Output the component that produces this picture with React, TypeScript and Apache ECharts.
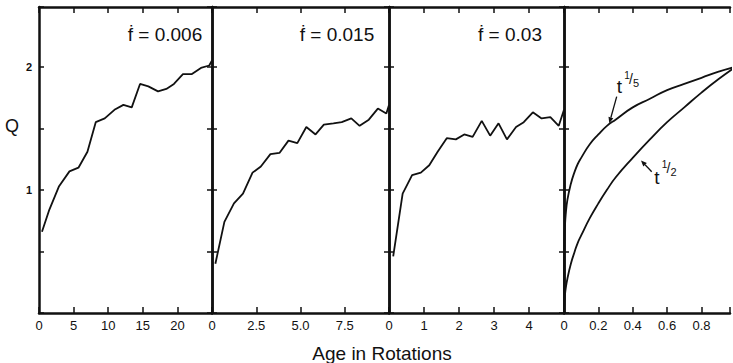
import React, { useEffect, useRef } from "react";
import * as echarts from "echarts";

// Panel 1: fdot = 0.006
const p1Age = [0.43, 1.5, 2.9, 4.4, 5.7, 7.0, 8.2, 9.5, 10.9, 12.2, 13.4, 14.6, 15.8, 17.2, 18.4, 19.5, 20.8, 22.1, 23.4, 24.6, 25.0];
const p1Q = [0.66, 0.84, 1.03, 1.15, 1.18, 1.31, 1.55, 1.58, 1.65, 1.69, 1.67, 1.86, 1.84, 1.80, 1.82, 1.86, 1.94, 1.94, 1.99, 2.01, 2.05];
// Panel 2: fdot = 0.015
const p2Age = [0.19, 0.70, 1.24, 1.75, 2.29, 2.76, 3.30, 3.81, 4.32, 4.82, 5.33, 5.85, 6.32, 6.86, 7.33, 7.87, 8.34, 8.86, 9.37, 9.85, 10.0];
const p2Q = [0.40, 0.74, 0.89, 0.97, 1.14, 1.19, 1.29, 1.30, 1.40, 1.38, 1.51, 1.45, 1.53, 1.54, 1.55, 1.58, 1.52, 1.57, 1.66, 1.62, 1.69];
// Panel 3: fdot = 0.03
const p3Age = [0.12, 0.39, 0.66, 0.91, 1.15, 1.39, 1.65, 1.91, 2.15, 2.39, 2.65, 2.89, 3.13, 3.37, 3.63, 3.85, 4.11, 4.36, 4.61, 4.85, 5.0];
const p3Q = [0.46, 0.97, 1.12, 1.14, 1.20, 1.31, 1.42, 1.41, 1.45, 1.43, 1.56, 1.44, 1.54, 1.41, 1.51, 1.55, 1.63, 1.58, 1.59, 1.52, 1.65];
// Panel 4: power-law curves
const p4T = [0, 0.0005, 0.001, 0.003, 0.005, 0.01, 0.02, 0.04, 0.06, 0.08, 0.1, 0.15, 0.2, 0.25, 0.3, 0.4, 0.5, 0.6, 0.7, 0.8, 0.9, 1.0];
const p4Fifth = [0, 0.44, 0.50, 0.63, 0.69, 0.80, 0.92, 1.05, 1.14, 1.21, 1.26, 1.37, 1.45, 1.52, 1.57, 1.67, 1.74, 1.81, 1.86, 1.91, 1.96, 2.0];
const p4Half = [0, 0.045, 0.063, 0.11, 0.14, 0.20, 0.28, 0.40, 0.49, 0.57, 0.63, 0.77, 0.89, 1.0, 1.10, 1.26, 1.41, 1.55, 1.67, 1.79, 1.90, 2.0];

const panelTitles = ["ḟ = 0.006", "ḟ = 0.015", "ḟ = 0.03"];
// the last panel is cut off by the picture's right edge just short of 1.0
const xMax = [25, 10, 5, 0.966];
const xInterval = [5, 2.5, 1, 0.2];

const FONT = "'Liberation Sans', Arial, sans-serif";
const INK = "#111";

const zip = (a: number[], b: number[]) => a.map((v, i) => [v, b[i]]);

export default function App() {
  const ref = useRef<HTMLDivElement>(null);
  useEffect(() => {
    if (!ref.current) return;
    const chart = echarts.init(ref.current, undefined, { renderer: "svg" });
    const grids = [
      { left: 39, top: 7, width: 173, height: 306 },
      { left: 212, top: 7, width: 177, height: 306 },
      { left: 389, top: 7, width: 175, height: 306 },
      { left: 564, top: 7, width: 169, height: 306 },
    ];
    const axisLine = { show: true, onZero: false, lineStyle: { color: INK, width: 2.5 } };
    const axisTick = { show: true, inside: true, length: 6, lineStyle: { color: INK, width: 1.5 } };
    const xFormatters = [
      (v: number) => (v >= 25 ? "" : String(v)),
      (v: number) => (v === 0 ? "0" : v >= 10 ? "" : v.toFixed(1)),
      (v: number) => (v >= 5 ? "" : String(v)),
      (v: number) => (v === 0 ? "0" : v >= 0.9 ? "" : v.toFixed(1)),
    ];
    const xAxis: any[] = [];
    const yAxis: any[] = [];
    grids.forEach((_, i) => {
      xAxis.push({
        type: "value", gridIndex: i, position: "bottom", min: 0, max: xMax[i], interval: xInterval[i],
        axisLine, axisTick, splitLine: { show: false },
        axisLabel: { formatter: xFormatters[i], color: INK, fontSize: 13, fontFamily: FONT, margin: 6 },
      });
      xAxis.push({
        type: "value", gridIndex: i, position: "top", min: 0, max: xMax[i], interval: xInterval[i],
        axisLine, axisTick, splitLine: { show: false }, axisLabel: { show: false },
      });
    });
    grids.forEach((_, i) => {
      yAxis.push({
        type: "value", gridIndex: i, position: "left", min: 0, max: 2.485, interval: 0.5,
        axisLine, axisTick: { ...axisTick, length: 5 }, splitLine: { show: false },
        axisLabel: {
          show: i === 0,
          formatter: (v: number) => (v === 1 || v === 2 ? String(v) : ""),
          color: INK, fontSize: 11, fontWeight: "bold", fontFamily: FONT, margin: 7,
        },
      });
      yAxis.push({
        type: "value", gridIndex: i, position: "right", min: 0, max: 2.485, interval: 0.5,
        show: i < 3,
        axisLine, axisTick: { ...axisTick, length: 5 }, splitLine: { show: false },
        axisLabel: { show: false },
      });
    });
    const lineStyle = { color: INK, width: 1.8 };
    const mk = (i: number, data: number[][], smooth = false) => ({
      type: "line", xAxisIndex: 2 * i, yAxisIndex: 2 * i, data, showSymbol: false,
      lineStyle, smooth, silent: true, clip: true,
    });
    const series = [
      mk(0, zip(p1Age, p1Q)),
      mk(1, zip(p2Age, p2Q)),
      mk(2, zip(p3Age, p3Q)),
      mk(3, zip(p4T, p4Fifth), true),
      mk(3, zip(p4T, p4Half), true),
    ];
    const titleX = [165, 337, 510];
    const txt = (x: number, y: number, text: string, size: number, align = "center") => ({
      type: "text", x, y,
      style: { text, fill: INK, font: `${size}px ${FONT}`, textAlign: align, textVerticalAlign: "middle" },
    });
    const graphic: any[] = [
      ...panelTitles.map((t, i) => txt(titleX[i], 34, t, 19)),
      txt(12, 126, "Q", 18),
      txt(382, 353, "Age in Rotations", 19),
      // t^(1/5)
      txt(619.5, 86, "t", 19),
      txt(627, 75, "1", 10),
      txt(631, 79, "/", 14),
      txt(636, 83, "5", 11),
      // t^(1/2)
      txt(657, 177, "t", 19),
      txt(664.5, 164, "1", 10),
      txt(668.5, 168, "/", 14),
      txt(673.5, 172, "2", 11),
      { type: "line", shape: { x1: 616.7, y1: 96.7, x2: 610.9, y2: 117.5 }, style: { stroke: INK, lineWidth: 1.3 } },
      { type: "polygon", shape: { points: [[609.3, 123.3], [613.3, 118.2], [608.5, 116.8]] }, style: { fill: INK } },
      { type: "line", shape: { x1: 651.7, y1: 171.7, x2: 645.1, y2: 164.8 }, style: { stroke: INK, lineWidth: 1.3 } },
      { type: "polygon", shape: { points: [[641, 160.5], [646.9, 163.1], [643.3, 166.5]] }, style: { fill: INK } },
    ];
    chart.setOption({
      animation: false,
      backgroundColor: "#fff",
      grid: grids,
      xAxis,
      yAxis,
      series,
      graphic,
    });
    return () => chart.dispose();
  }, []);
  return <div ref={ref} style={{ position: "fixed", left: 0, top: 0, width: 733, height: 363 }} />;
}
